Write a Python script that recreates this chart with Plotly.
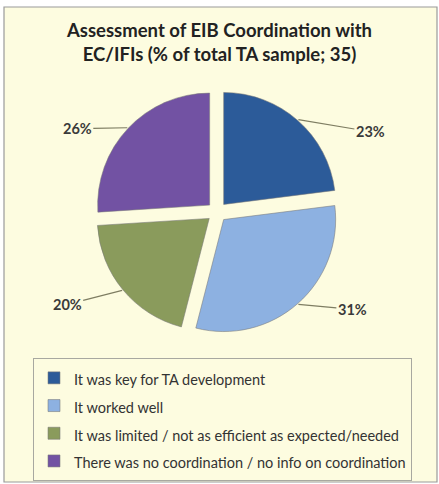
import math
import plotly.graph_objects as go

# ---- data ----
categories = [
    "It was key for TA development",
    "It worked well",
    "It was limited / not as efficient as expected/needed",
    "There was no coordination / no info on coordination",
]
shares = [23, 31, 20, 26]
colors = ["#2C5B99", "#8DB1E1", "#8A9B5C", "#7252A3"]
title_text = "Assessment of EIB Coordination with<br>EC/IFIs (% of total TA sample; 35)"

# ---- layout geometry (pixels) ----
W, H = 439, 484
cx, cy, rad = 217, 212, 112
pull = 0.09
half = rad * (1 + pull)
label_offsets = [(72, 12), (54, 5), (-55, 14), (-50, 1)]  # text offsets from leader start

legend_labels = [f"<span style='font-size:14.5px'>{c}</span>" for c in categories]

fig = go.Figure()
fig.add_trace(go.Pie(
    labels=legend_labels,
    values=shares,
    sort=False,
    direction="clockwise",
    rotation=0,
    pull=[pull] * len(shares),
    marker=dict(colors=colors, line=dict(color="rgba(120,120,120,0.55)", width=1)),
    textinfo="none",
    hoverinfo="label+percent",
    domain=dict(x=[(cx - half) / W, (cx + half) / W],
                y=[1 - (cy + half) / H, 1 - (cy - half) / H]),
    showlegend=True,
))

# leader-line labels computed from the slice angles
total = sum(shares)
cum = 0
annotations = []
for v, (ox, oy) in zip(shares, label_offsets):
    theta = 2 * math.pi * (cum + v / 2) / total
    cum += v
    R = rad * (1 + pull) + 1
    px = cx + R * math.sin(theta)
    py = cy - R * math.cos(theta)
    annotations.append(dict(
        x=px / W, y=1 - py / H, xref="paper", yref="paper",
        text=f"{v}%", showarrow=True, arrowhead=0, arrowwidth=1.2,
        arrowcolor="#7E7D62", ax=ox, ay=oy, standoff=0,
        font=dict(family="Lato", size=14.5, color="#3A3A3A", weight="bold"),
    ))

fig.update_layout(
    width=W, height=H,
    margin=dict(l=0, r=0, t=0, b=0),
    paper_bgcolor="white",
    plot_bgcolor="rgba(0,0,0,0)",
    title=dict(text=title_text, x=0.5, xanchor="center", xref="paper",
               y=1 - 37 / H, yanchor="top", yref="container",
               font=dict(family="Lato", size=18.5, color="#222222", weight="bold")),
    shapes=[dict(type="rect", xref="paper", yref="paper",
                 x0=4 / W, x1=437 / W, y0=1 - 482 / H, y1=1 - 7 / H,
                 fillcolor="#FDFCE0", line=dict(color="#9A9A9A", width=1.2),
                 layer="below")],
    annotations=annotations,
    legend=dict(x=33 / W, y=1 - 358 / H, xanchor="left", yanchor="top",
                bgcolor="rgba(0,0,0,0)", bordercolor="#A8A8A0", borderwidth=1,
                font=dict(family="Lato", size=19, color="#333333"),
                traceorder="normal"),
)

fig.write_html("out.html", config={"displayModeBar": False},
               post_script="document.body.style.margin='0';")
